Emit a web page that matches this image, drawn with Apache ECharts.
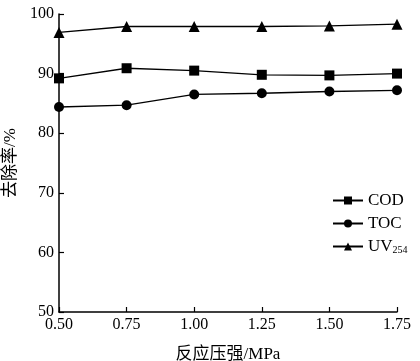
<!DOCTYPE html>
<html><head><meta charset="utf-8">
<script src="https://cdn.jsdelivr.net/npm/echarts@6/dist/echarts.min.js"></script>
<style>html,body{margin:0;padding:0;background:#fff}#c{width:420px;height:361px}</style>
</head><body><div id="c"></div>
<script>
const pressure = [0.50, 0.75, 1.00, 1.25, 1.50, 1.75];
const cod = [89.2, 90.9, 90.5, 89.8, 89.7, 90.0];
const toc = [84.4, 84.7, 86.5, 86.7, 87.0, 87.2];
const uv254 = [96.9, 97.9, 97.9, 97.9, 98.0, 98.3];
const xName = '反应压强/MPa';
const yName = '去除率/%';
const seriesNames = ['COD', 'TOC', 'UV254'];

const FONT = '"Liberation Serif", "Times New Roman", "Noto Sans CJK SC", serif';
const pair = (xs, ys) => xs.map((x, i) => [x, ys[i]]);
const lineStyle = { color: '#000', width: 1.3 };
const itemStyle = { color: '#000' };

const chart = echarts.init(document.getElementById('c'), null, { renderer: 'canvas' });
chart.setOption({
  animation: false,
  backgroundColor: '#fff',
  textStyle: { fontFamily: FONT, color: '#000' },
  grid: { left: 59, right: 23, top: 14, bottom: 49, containLabel: false, outerBoundsMode: 'none' },
  legend: {
    orient: 'vertical', left: 327, top: 187,
    itemWidth: 30, itemHeight: 10, itemGap: 6,
    textStyle: {
      fontFamily: FONT, fontSize: 17, color: '#000', lineHeight: 17,
      rich: { sub: { fontFamily: FONT, fontSize: 10, color: '#000', lineHeight: 17, verticalAlign: 'bottom', padding: [5, 0, 0, 0] } }
    },
    formatter: n => n === 'UV254' ? 'UV{sub|254}' : n,
    data: seriesNames
  },
  xAxis: {
    type: 'value', min: 0.5, max: 1.75, interval: 0.25,
    name: xName, nameLocation: 'middle', nameGap: 34,
    nameTextStyle: { fontFamily: FONT, fontSize: 17, color: '#000' },
    axisLine: { lineStyle: { color: '#000', width: 1.5 } },
    axisTick: { inside: true, length: 5, lineStyle: { color: '#000', width: 1.2 } },
    axisLabel: { fontFamily: FONT, fontSize: 16, color: '#000', margin: 5, formatter: v => v.toFixed(2) },
    splitLine: { show: false }
  },
  yAxis: {
    type: 'value', min: 50, max: 100, interval: 10,
    name: yName, nameLocation: 'middle', nameGap: 36, nameRotate: 90,
    nameTextStyle: { fontFamily: FONT, fontSize: 17, color: '#000' },
    axisLine: { lineStyle: { color: '#000', width: 1.5 } },
    axisTick: { inside: true, length: 5, lineStyle: { color: '#000', width: 1.2 } },
    axisLabel: { fontFamily: FONT, fontSize: 16, color: '#000', margin: 5 },
    splitLine: { show: false }
  },
  series: [
    { name: 'COD', type: 'line', data: pair(pressure, cod), symbol: 'rect', symbolSize: 10, lineStyle, itemStyle },
    { name: 'TOC', type: 'line', data: pair(pressure, toc), symbol: 'circle', symbolSize: 10, lineStyle, itemStyle },
    { name: 'UV254', type: 'line', data: pair(pressure, uv254), symbol: 'triangle', symbolSize: 11, lineStyle, itemStyle }
  ]
});
</script></body></html>
